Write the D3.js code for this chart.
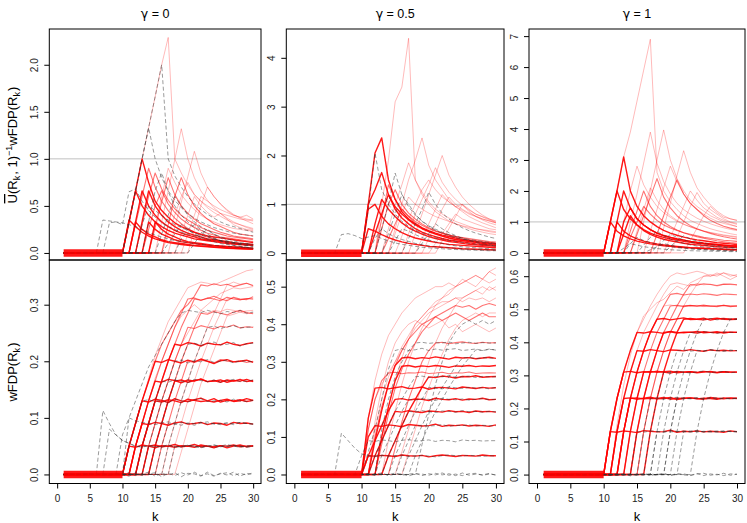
<!DOCTYPE html>
<html>
<head>
<meta charset="utf-8">
<script src="https://cdn.jsdelivr.net/npm/d3@7"></script>
<style>
body { margin: 0; background: #fff; }
text { font-family: "Liberation Sans", Arial, sans-serif; }
</style>
</head>
<body>
<script>
// ---- data (each line: [k where it leaves 0, value at that k, value at k+1, ... value at 30]) ----
var kTicks = [0, 5, 10, 15, 20, 25, 30];
var gammaValues = ['0', '0.5', '1'];
var bandK = [1, 2, 3, 4, 5, 6, 7, 8, 9, 10];

var top0Ticks = [0, 0.5, 1, 1.5, 2];
var top1Ticks = [0, 1, 2, 3, 4];
var top2Ticks = [0, 1, 2, 3, 4, 5, 6, 7];
var bot0Ticks = [0, 0.1, 0.2, 0.3];
var bot1Ticks = [0, 0.1, 0.2, 0.3, 0.4, 0.5];
var bot2Ticks = [0, 0.1, 0.2, 0.3, 0.4, 0.5, 0.6];

// gamma = 0, top row
var top0Strong = [
  [10, 0,.35,.28,.22,.18,.15,.13,.11,.1,.09,.08,.075,.07,.065,.06,.055,.05,.048,.045,.042,.04],
  [10, 0,.33,.66,.5,.4,.33,.28,.24,.21,.19,.17,.15,.14,.13,.12,.11,.1,.095,.09,.085,.08],
  [10, 0,.33,.66,1.0,.75,.55,.45,.38,.32,.28,.25,.22,.2,.18,.17,.16,.15,.14,.13,.12,.11],
  [11, 0,.33,.66,.5,.4,.33,.28,.24,.21,.19,.17,.15,.14,.13,.12,.11,.1,.095,.09,.085],
  [11, 0,.33,.25,.2,.17,.14,.12,.11,.1,.09,.08,.075,.07,.065,.06,.055,.05,.048,.045,.042],
  [12, 0,.33,.66,.5,.4,.33,.28,.24,.21,.19,.17,.15,.14,.13,.12,.11,.1,.095,.09],
  [13, 0,.33,.25,.2,.17,.14,.12,.11,.1,.09,.08,.075,.07,.065,.06,.055,.05,.048],
  [14, 0,.33,.25,.2,.17,.14,.12,.11,.1,.09,.08,.075,.07,.065,.06,.055,.05]
];
var top0Mid = [
  [12, 0,.3,.6,.85,.68,.56,.47,.4,.35,.31,.27,.24,.22,.2,.18,.17,.16,.15,.14],
  [14, 0,.27,.54,.8,.62,.5,.42,.36,.31,.28,.25,.22,.2,.18,.17,.16,.15],
  [16, 0,.3,.6,.8,.62,.5,.42,.36,.31,.28,.25,.22,.2,.19,.18],
  [13, 0,.25,.5,.66,.52,.43,.36,.31,.27,.24,.21,.19,.17,.16,.15,.14,.13,.12],
  [11, 0,.3,.6,.9,.7,.55,.45,.37,.31,.26,.22,.19,.17,.15,.13,.12,.11,.1,.09,.085]
];
var top0Faint = [
  [10, 0,.33,.66,1.0,1.33,1.66,2.0,2.29,1.0,.85,.72,.62,.55,.48,.43,.39,.35,.32,.3,.28,.26],
  [15, 0,.33,.66,.99,1.32,1.0,.8,.66,.56,.48,.42,.37,.33,.3,.27,.25],
  [17, 0,.27,.54,.81,1.08,.85,.7,.6,.52,.46,.41,.37,.34,.31],
  [18, 0,.2,.4,.6,.5,.43,.38,.42,.36,.3,.27,.25,.24],
  [20, 0,.25,.5,.7,.6,.52,.45,.4,.38,.4,.36],
  [16, 0,.2,.4,.6,.75,.62,.55,.5,.46,.42,.4,.38,.36,.35,.34],
  [19, 0,.2,.4,.6,.55,.5,.46,.43,.4,.38,.36,.35],
  [14, 0,.3,.6,.9,.75,.62,.53,.46,.4,.36,.33,.3,.28,.26,.25,.24,.23]
];
var top0Gray = [
  [10, 0,.33,.66,1.0,1.33,1.0,.8,.66,.56,.48,.42,.37,.33,.3,.27,.25,.23,.21,.2,.19,.18],
  [10, 0,.33,.66,1.0,1.33,1.66,2.0,1.0,.82,.7,.6,.52,.46,.41,.37,.33,.3,.28,.26,.24,.22],
  [6, 0,.35,.34,.33,.32,.3,.28,.25,.22,.19,.17,.15,.13,.12,.11,.1,.09,.085,.08,.075,.07,.065,.06,.055,.05],
  [7, 0,.32,.33,.3,.65,.68,.55,.45,.38,.32,.28,.25,.22,.2,.18,.16,.15,.14,.13,.12,.11,.1,.1,.09],
  [12, 0,.3,.5,.45,.4,.35,.3,.27,.24,.21,.19,.17,.15,.13,.12,.11,.1,.09,.08],
  [15, 0,.2,.4,.6,.5,.4,.33,.28,.24,.2,.17,.15,.13,.11,.1,.09],
  [13, 0,.33,.66,.85,.65,.5,.4,.33,.27,.22,.18,.15,.13,.11,.1,.09,.08,.07],
  [18, 0,.15,.25,.3,.25,.2,.16,.13,.1,.08,.07,.06,.05],
  [16, 0,.1,.2,.3,.25,.2,.17,.14,.12,.1,.09,.08,.07,.06,.05],
  [20, 0,.1,.2,.25,.2,.16,.13,.11,.09,.08,.07]
];

// gamma = 0.5, top row
var top1Strong = [
  [10, 0,1.0,2.05,2.36,1.5,1.1,.85,.7,.6,.52,.46,.41,.37,.34,.31,.28,.26,.24,.22,.21,.2],
  [10, 0,1.0,1.3,1.65,1.2,.9,.72,.6,.5,.43,.38,.34,.3,.27,.25,.23,.21,.19,.18,.17,.16],
  [10, 0,.9,1.0,.75,.6,.5,.42,.36,.31,.28,.25,.22,.2,.18,.17,.16,.15,.14,.13,.12,.11],
  [10, 0,.5,.45,.38,.32,.27,.23,.2,.18,.16,.14,.13,.12,.11,.1,.09,.085,.08,.075,.07,.065],
  [11, 0,.6,1.1,.9,.75,.62,.52,.45,.39,.34,.3,.27,.24,.22,.2,.18,.17,.16,.15,.14],
  [11, 0,.4,.8,1.2,.95,.8,.68,.58,.5,.44,.39,.35,.31,.28,.26,.24,.22,.2,.19,.18]
];
var top1Mid = [
  [12, 0,.5,1.0,1.3,1.0,.82,.7,.6,.52,.46,.41,.37,.34,.31,.28,.26,.24,.22,.2],
  [13, 0,.3,.6,.9,.75,.62,.52,.45,.4,.35,.31,.28,.26,.24,.22,.2,.19,.18],
  [12, 0,.7,1.4,1.1,.9,.76,.65,.57,.5,.45,.41,.37,.34,.32,.3,.28,.26,.24,.23]
];
var top1Faint = [
  [12, 0,1.0,1.9,3.1,3.4,4.4,1.5,1.2,1.0,.85,.75,.66,.6,.55,.5,.46,.43,.4,.38],
  [14, 0,.5,1.0,1.5,1.9,2.36,1.8,1.5,1.3,1.1,.95,.85,.75,.68,.62,.57,.52],
  [17, 0,.4,.8,1.2,1.6,2.0,1.6,1.35,1.15,1.0,.88,.78,.7,.64],
  [13, 0,.5,1.0,1.4,1.85,1.5,1.25,1.05,.9,.8,.72,.65,.6,.55,.5,.47,.44,.42],
  [18, 0,.3,.6,.9,1.2,1.05,.95,1.0,.85,.75,.68,.62,.58],
  [15, 0,.35,.7,1.0,1.3,1.5,1.3,1.15,1.05,.95,.88,.8,.75,.7,.66,.62],
  [20, 0,.2,.4,.6,.8,.7,.65,.6,.55,.5,.48],
  [16, 0,.4,.8,1.1,1.4,1.75,1.45,1.25,1.1,.98,.88,.8,.74,.68,.63],
  [19, 0,.3,.6,.9,1.15,1.0,.9,.82,.76,.7,.66,.62],
  [14, 0,.4,.8,1.15,1.0,.9,.82,.75,.7,.65,.6,.56,.53,.5,.48,.46,.44],
  [21, 0,.25,.5,.75,1.0,.9,.8,.75,.7,.66]
];
var top1Gray = [
  [6, 0,.38,.4,.36,.3,.33,.36,.3,.25,.21,.18,.16,.14,.12,.11,.1,.09,.08,.075,.07,.065,.06,.055,.05,.05],
  [10, 0,.9,2.05,1.3,1.0,.8,.65,.55,.47,.41,.36,.32,.29,.26,.24,.22,.2,.18,.17,.16,.15],
  [12, 0,.5,1.0,1.64,1.2,.95,.78,.66,.56,.49,.43,.38,.34,.31,.28,.26,.24,.22,.2],
  [13, 0,.4,.8,1.2,1.0,.8,.65,.55,.47,.41,.36,.32,.29,.26,.24,.22,.2,.19],
  [16, 0,.3,.6,.9,1.25,1.0,.82,.7,.6,.52,.46,.41,.37,.33,.3],
  [11, 0,.3,.5,.4,.33,.28,.24,.2,.17,.15,.13,.12,.11,.1,.09,.08,.075,.07,.065,.06],
  [14, 0,.25,.5,.45,.38,.32,.27,.23,.2,.17,.15,.13,.12,.11,.1,.09,.08],
  [18, 0,.2,.4,.6,.5,.42,.36,.3,.26,.22,.19,.17,.15]
];

// gamma = 1, top row
var top2Strong = [
  [10, 0,1.0,2.0,3.1,2.0,1.5,1.2,1.0,.85,.73,.64,.57,.51,.46,.42,.39,.36,.33,.31,.29,.27],
  [10, 0,1.0,2.0,1.4,1.1,.9,.75,.64,.56,.5,.45,.41,.37,.34,.31,.29,.27,.25,.23,.22,.21],
  [10, 0,1.0,.7,.55,.45,.38,.33,.29,.26,.23,.21,.19,.17,.16,.15,.14,.13,.12,.11,.1,.1],
  [11, 0,1.0,2.0,1.45,1.1,.9,.75,.64,.56,.5,.45,.41,.37,.34,.31,.29,.27,.25,.23,.22],
  [11, 0,1.0,.7,.55,.45,.38,.33,.29,.26,.23,.21,.19,.17,.16,.15,.14,.13,.12,.11,.1],
  [12, 0,1.0,1.45,1.1,.9,.75,.64,.56,.5,.45,.41,.37,.34,.31,.29,.27,.25,.23,.22],
  [12, 0,.6,1.2,.9,.72,.6,.51,.44,.39,.35,.31,.28,.26,.24,.22,.2,.19,.18,.17]
];
var top2Mid = [
  [13, 0,.7,1.35,2.0,1.5,1.2,1.0,.85,.74,.65,.58,.52,.47,.43,.39,.36,.33,.31],
  [14, 0,.6,1.2,1.8,2.4,1.8,1.45,1.2,1.02,.88,.78,.7,.63,.57,.52,.48,.45],
  [17, 0,.6,1.2,1.8,2.35,1.9,1.6,1.4,1.2,1.05,.95,.86,.8,.75],
  [13, 0,.5,1.0,1.5,1.25,1.05,.9,.8,.72,.65,.6,.55,.5,.47,.44,.41,.39,.37]
];
var top2Faint = [
  [10, 0,1.0,2.0,3.1,3.9,4.9,5.9,6.9,2.6,2.0,1.65,1.4,1.2,1.05,.95,.86,.78,.72,.67,.62,.58],
  [15, 0,1.0,2.0,3.0,3.97,3.0,2.4,2.0,1.7,1.5,1.35,1.2,1.1,1.0,.92,.85],
  [18, 0,.8,1.6,2.5,3.3,2.6,2.1,1.8,1.55,1.35,1.2,1.1,1.05],
  [12, 0,1.0,2.0,2.8,2.2,1.8,1.5,1.3,1.15,1.02,.92,.84,.77,.71,.66,.62,.58,.55,.52],
  [20, 0,.5,1.0,1.5,1.95,1.6,1.4,1.25,1.1,1.0,.95],
  [14, 0,.7,1.4,2.1,1.7,1.4,1.2,1.05,.93,.84,.76,.7,.65,.6,.56,.53,.5],
  [22, 0,.4,.8,1.2,1.5,1.3,1.15,1.1,1.05],
  [16, 0,.7,1.4,2.1,2.8,2.3,1.9,1.6,1.4,1.25,1.12,1.02,.95,.9,.85],
  [19, 0,.5,1.0,1.5,2.0,1.7,1.45,1.3,1.15,1.05,.98,.92],
  [13, 0,1.0,1.9,2.9,3.9,2.9,2.3,1.9,1.6,1.4,1.25,1.12,1.02,.94,.87,.81,.76,.72]
];
var top2Gray = [
  [13, 0,.3,.5,.4,.33,.28,.24,.2,.17,.15,.13,.12,.11,.1,.09,.08,.075,.07],
  [15, 0,.25,.5,.7,.55,.45,.37,.31,.26,.22,.19,.17,.15,.13,.12,.11],
  [17, 0,.2,.4,.6,.5,.42,.35,.3,.26,.22,.2,.18,.16,.15],
  [12, 0,.15,.3,.25,.2,.17,.14,.12,.1,.09,.08,.07,.065,.06,.055,.05,.045,.04,.04],
  [19, 0,.2,.4,.55,.45,.38,.32,.27,.23,.2,.18,.16],
  [16, 0,.1,.2,.3,.25,.2,.17,.14,.12,.1,.09,.08,.07,.06,.05]
];

// gamma = 0, bottom row
var bot0Strong = [
  [10, 0,.05,.048,.052,.05,.047,.051,.05,.053,.049,.05,.048,.052,.05,.049,.051,.047,.05,.052,.049,.05],
  [10, 0,.05,.09,.13,.128,.133,.131,.127,.134,.13,.129,.132,.135,.13,.128,.131,.133,.129,.13,.134,.131],
  [10, 0,.05,.09,.13,.165,.20,.198,.203,.2,.197,.202,.199,.204,.2,.196,.201,.203,.199,.2,.202,.198],
  [11, 0,.05,.09,.088,.092,.09,.087,.091,.093,.089,.09,.092,.088,.091,.09,.087,.092,.09,.091,.089],
  [11, 0,.05,.09,.13,.165,.163,.168,.166,.162,.167,.165,.169,.164,.166,.163,.167,.165,.168,.164,.166],
  [12, 0,.05,.09,.13,.128,.132,.13,.127,.133,.131,.129,.13,.134,.128,.131,.13,.132,.129,.131],
  [13, 0,.05,.052,.049,.05,.048,.051,.05,.053,.049,.05,.047,.051,.05,.052,.049,.05,.051],
  [12, 0,.05,.09,.13,.165,.20,.23,.228,.233,.231,.227,.232,.23,.229,.234,.23,.228,.231,.233],
  [14, 0,.05,.09,.13,.165,.167,.163,.166,.168,.164,.165,.167,.163,.166,.165,.168,.164]
];
var bot0Mid = [
  [10, 0,.05,.09,.13,.165,.20,.23,.25,.27,.29,.30,.315,.335,.333,.337,.334,.336,.332,.335,.338,.334],
  [11, 0,.05,.09,.13,.165,.20,.23,.26,.285,.31,.312,.308,.311,.315,.31,.307,.313,.31,.309,.314],
  [13, 0,.05,.09,.13,.165,.20,.23,.26,.258,.263,.26,.257,.262,.26,.264,.259,.261,.26],
  [14, 0,.05,.09,.13,.165,.20,.23,.26,.285,.283,.288,.285,.282,.287,.29,.286,.284],
  [15, 0,.05,.09,.13,.165,.20,.198,.202,.2,.197,.203,.2,.199,.201,.198,.2],
  [12, 0,.05,.09,.13,.165,.20,.23,.26,.285,.31,.308,.312,.31,.307,.313,.31,.309,.311,.31]
];
var bot0Faint = [
  [16, 0,.05,.09,.13,.165,.20,.23,.26,.285,.31,.335,.34,.336,.338,.333],
  [17, 0,.05,.09,.13,.165,.20,.23,.26,.285,.31,.312,.308,.311,.31],
  [18, 0,.04,.08,.12,.16,.19,.22,.25,.28,.283,.287,.284,.286],
  [10, 0,.05,.09,.13,.17,.21,.24,.27,.29,.31,.33,.335,.34,.338,.335,.34,.345,.35,.355,.36,.362],
  [11, 0,.05,.09,.13,.17,.2,.23,.26,.28,.29,.3,.29,.285,.29,.288,.292,.29,.287,.289,.29],
  [13, 0,.05,.09,.13,.165,.2,.23,.25,.27,.29,.3,.31,.32,.325,.33,.328,.33,.332]
];
var bot0Gray = [
  [6, 0,.113,.09,.07,.06,.055,.05,.048,.051,.049,.05,.052,.048,.05,.051,.049,.047,.05,.052,.05,.049,.051,.05,.048,.05],
  [7, 0,.08,.07,.06,.055,.05,.049,.051,.05,.048,.052,.05,.049,.051,.05,.048,.05,.052,.049,.05,.051,.05,.049,.05],
  [9, 0,.07,.1,.095,.092,.09,.088,.091,.093,.09,.087,.091,.09,.092,.089,.09,.088,.091,.09,.092,.09,.089],
  [1, 0,.001,-.002,.002,0,-.001,.002,-.002,.001,0,.003,-.002,.001,.004,-.003,.002,-.001,.003,-.004,.002,.001,-.003,.004,-.002,.001,.003,-.002,.002,-.001,.003],
  [1, -.002,.001,0,-.001,.002,.001,-.002,0,.002,-.001,-.003,.003,-.002,.001,.003,-.004,.002,-.002,.003,-.001,.004,-.002,.001,-.003,.002,-.001,.004,-.003,.002,0],
  [10, 0,.05,.09,.13,.132,.129,.131,.127,.133,.13,.128,.132,.134,.129,.13,.131,.128,.133,.13,.129,.131],
  [12, 0,.05,.09,.13,.165,.163,.167,.165,.162,.168,.166,.164,.167,.163,.166,.168,.164,.165,.167],
  [13, 0,.05,.09,.13,.165,.20,.202,.197,.201,.199,.203,.198,.2,.202,.197,.201,.2,.199],
  [14, 0,.05,.09,.13,.165,.20,.23,.232,.228,.231,.234,.229,.23,.233,.227,.231,.232],
  [10, 0,.1,.13,.16,.19,.21,.23,.25,.27,.285,.29,.288,.286,.29,.287,.284,.288,.286,.29,.285,.287],
  [15, 0,.05,.09,.088,.092,.09,.087,.091,.093,.089,.09,.091,.088,.092,.09,.089],
  [17, 0,.05,.048,.052,.05,.049,.051,.047,.05,.053,.05,.048,.051,.05],
  [16, 0,.05,.09,.13,.165,.20,.23,.26,.262,.258,.261,.263,.259,.26,.261]
];

// gamma = 0.5, bottom row
var bot1Strong = [
  [10, 0,.1,.13,.128,.132,.13,.127,.133,.131,.129,.13,.134,.128,.131,.13,.132,.129,.131,.13,.128,.132],
  [10, 0,.15,.23,.232,.228,.231,.234,.229,.23,.233,.227,.231,.232,.23,.228,.233,.231,.229,.232,.23,.231],
  [10, 0,.05,.09,.13,.17,.2,.202,.198,.201,.2,.197,.203,.2,.199,.202,.198,.201,.2,.203,.199,.2],
  [11, 0,.05,.09,.13,.168,.166,.17,.167,.165,.169,.168,.166,.17,.167,.168,.165,.169,.167,.168,.166],
  [10, 0,.05,.049,.051,.05,.048,.052,.05,.049,.051,.047,.05,.052,.05,.048,.051,.05,.049,.052,.05,.05],
  [11, 0,.09,.17,.24,.29,.31,.312,.308,.311,.309,.313,.31,.307,.312,.31,.311,.308,.31,.312,.309],
  [12, 0,.1,.18,.25,.288,.29,.286,.289,.287,.29,.288,.285,.289,.288,.29,.287,.289,.288,.29],
  [13, 0,.05,.09,.13,.168,.2,.232,.26,.258,.262,.26,.257,.261,.26,.263,.259,.26,.261]
];
var bot1Mid = [
  [14, 0,.07,.14,.2,.25,.3,.33,.35,.352,.348,.351,.353,.35,.349,.352,.35,.351],
  [11, 0,.1,.18,.24,.29,.33,.36,.38,.4,.41,.42,.41,.42,.43,.42,.41,.42,.43,.42,.42],
  [12, 0,.08,.16,.23,.28,.32,.35,.38,.4,.42,.43,.44,.45,.445,.45,.44,.45,.455,.45],
  [10, 0,.12,.2,.25,.27,.272,.268,.271,.27,.273,.269,.27,.272,.268,.271,.27,.273,.269,.27,.271,.27]
];
var bot1Faint = [
  [10, 0,.12,.2,.24,.27,.3,.33,.36,.39,.41,.43,.44,.45,.46,.47,.47,.48,.49,.48,.5,.49],
  [11, 0,.12,.2,.26,.3,.34,.37,.4,.42,.44,.46,.47,.48,.5,.51,.52,.53,.52,.54,.53],
  [13, 0,.09,.17,.24,.3,.35,.39,.42,.45,.47,.49,.5,.51,.52,.53,.52,.54,.55],
  [15, 0,.06,.12,.18,.24,.3,.35,.39,.42,.45,.47,.48,.49,.5,.49,.5],
  [10, 0,.15,.25,.32,.37,.4,.43,.45,.47,.48,.49,.5,.5,.51,.5,.52,.51,.5,.52,.51,.52],
  [12, 0,.1,.18,.25,.31,.36,.4,.42,.44,.45,.46,.46,.47,.46,.47,.465,.47,.46,.47],
  [16, 0,.06,.12,.18,.23,.28,.32,.36,.39,.41,.42,.43,.42,.43,.43],
  [11, 0,.14,.23,.3,.35,.38,.4,.41,.4,.39,.4,.41,.39,.4,.38,.39,.4,.39,.38,.39]
];
var bot1Gray = [
  [6, 0,.11,.09,.07,.055,.05,.048,.051,.049,.05,.052,.048,.05,.051,.049,.047,.05,.052,.05,.049,.051,.05,.048,.05,.049],
  [1, .002,-.001,0,.001,-.002,.002,0,-.001,.001,-.002,.003,-.003,.002,-.001,.004,-.002,.001,.003,-.003,.002,-.001,.004,-.002,.001,-.003,.002,.003,-.002,.001,-.001],
  [1, -.001,.002,-.002,0,.001,-.001,.002,.001,-.002,.002,-.002,.001,.004,-.003,.001,.002,-.004,.002,.001,-.002,.003,-.001,.002,-.003,.004,-.002,.001,-.001,.003,-.002],
  [9, 0,.05,.09,.088,.092,.09,.087,.091,.093,.089,.09,.092,.088,.091,.09,.087,.092,.09,.091,.089,.09,.09],
  [12, 0,.05,.09,.13,.168,.2,.198,.202,.2,.197,.203,.2,.199,.201,.198,.2,.202,.199,.2],
  [14, 0,.05,.09,.13,.168,.2,.232,.23,.228,.233,.231,.229,.232,.23,.231,.228,.232],
  [16, 0,.05,.09,.13,.168,.2,.232,.26,.288,.31,.312,.308,.311,.31,.309],
  [15, 0,.05,.09,.13,.131,.129,.13,.133,.128,.131,.13,.132,.129,.131,.13,.13],
  [17, 0,.05,.09,.13,.168,.2,.232,.26,.288,.31,.332,.33,.334,.331],
  [13, 0,.05,.09,.13,.168,.166,.17,.167,.165,.169,.168,.166,.17,.167,.168,.166,.168,.167],
  [12, 0,.12,.2,.26,.3,.33,.35,.352,.349,.351,.35,.353,.348,.35,.352,.349,.351,.35,.35],
  [11, 0,.05,.09,.13,.168,.2,.232,.26,.262,.258,.261,.26,.263,.259,.26,.262,.258,.261,.26,.26],
  [18, 0,.08,.16,.24,.3,.35,.38,.4,.41,.4,.41,.4,.41],
  [10, 0,.06,.12,.2,.28,.33,.335,.33,.332,.336,.33,.334,.331,.333,.335,.33,.332,.334,.33,.333,.332]
];

// gamma = 1, bottom row
var bot2Strong = [
  [10, 0,.13,.128,.132,.13,.127,.133,.131,.129,.13,.134,.128,.131,.13,.132,.129,.131,.13,.128,.132,.13],
  [10, 0,.13,.23,.31,.312,.308,.311,.309,.313,.31,.307,.312,.31,.311,.308,.31,.312,.309,.311,.31,.31],
  [10, 0,.13,.23,.31,.375,.43,.428,.432,.43,.427,.433,.43,.429,.431,.428,.432,.43,.429,.431,.43,.43],
  [11, 0,.13,.23,.232,.228,.231,.234,.229,.23,.233,.227,.231,.232,.23,.228,.233,.231,.229,.232,.23],
  [11, 0,.13,.23,.31,.375,.373,.378,.375,.372,.377,.376,.374,.378,.375,.373,.377,.375,.376,.374,.375],
  [12, 0,.13,.23,.31,.375,.43,.47,.472,.468,.471,.474,.469,.47,.473,.467,.471,.472,.47,.471],
  [12, 0,.13,.23,.232,.229,.231,.23,.233,.228,.231,.23,.232,.229,.231,.23,.228,.232,.23,.231],
  [13, 0,.13,.23,.31,.312,.309,.311,.313,.308,.31,.311,.309,.312,.31,.308,.311,.31,.31],
  [14, 0,.13,.23,.31,.375,.43,.432,.428,.431,.43,.433,.429,.43,.432,.428,.431,.43],
  [16, 0,.13,.23,.31,.375,.43,.47,.472,.47,.468,.471,.473,.47,.469,.47]
];
var bot2Mid = [
  [13, 0,.13,.23,.31,.375,.43,.47,.51,.512,.508,.511,.51,.513,.509,.51,.512,.508,.51],
  [12, 0,.13,.23,.31,.375,.43,.47,.51,.545,.548,.543,.546,.544,.547,.545,.542,.546,.545,.544],
  [15, 0,.13,.23,.31,.375,.43,.47,.51,.512,.509,.511,.51,.508,.512,.51,.51],
  [14, 0,.13,.23,.31,.375,.43,.47,.51,.545,.575,.573,.577,.575,.572,.576,.575,.574]
];
var bot2Faint = [
  [10, 0,.13,.23,.31,.375,.43,.47,.51,.545,.575,.6,.61,.605,.61,.615,.61,.6,.605,.61,.6,.605],
  [11, 0,.13,.23,.31,.375,.43,.47,.51,.545,.575,.58,.575,.57,.578,.574,.576,.57,.575,.578,.573],
  [15, 0,.13,.23,.31,.375,.43,.47,.51,.545,.575,.6,.605,.6,.61,.605,.6],
  [11, 0,.15,.27,.36,.43,.48,.5,.52,.53,.55,.57,.56,.58,.59,.6,.6,.61,.6,.59,.6],
  [12, 0,.13,.23,.31,.375,.43,.47,.51,.513,.509,.511,.51,.512,.508,.51,.511,.509,.51,.51]
];
var bot2Gray = [
  [1, .001,-.002,.002,-.001,0,.002,-.002,.001,-.001,.002,-.003,.003,-.001,.002,-.002,.004,-.003,.001,.002,-.002,.003,-.001,-.003,.002,.004,-.002,.001,-.003,.002,.001],
  [1, -.001,0,.002,-.002,.001,-.001,.001,.002,-.002,0,.002,-.002,.003,-.004,.002,-.001,.003,-.002,.004,-.003,.001,.002,-.002,.003,-.003,.002,-.001,.004,-.002,.001],
  [14, 0,.13,.128,.132,.13,.127,.133,.131,.129,.13,.134,.128,.131,.13,.132,.13,.129],
  [15, 0,.13,.23,.232,.228,.231,.234,.229,.23,.233,.227,.231,.232,.23,.229,.231],
  [16, 0,.13,.23,.31,.308,.312,.31,.307,.311,.313,.309,.31,.312,.308,.31],
  [17, 0,.13,.23,.31,.375,.377,.373,.376,.374,.378,.375,.373,.376,.375],
  [18, 0,.13,.23,.31,.375,.43,.428,.432,.43,.427,.431,.43,.43],
  [19, 0,.13,.23,.31,.375,.43,.47,.472,.468,.471,.47,.47],
  [20, 0,.13,.23,.31,.375,.373,.377,.375,.374,.376,.375],
  [23, 0,.13,.23,.31,.375,.43,.47,.47],
  [19, 0,.13,.23,.232,.229,.231,.23,.233,.228,.231,.23,.23],
  [17, 0,.13,.131,.129,.13,.132,.128,.131,.13,.129,.132,.13,.131,.13],
  [21, 0,.13,.132,.129,.131,.13,.128,.131,.13,.13]
];

// ---- layout ----
var W = 747, H = 523;
var cols = [[49.3, 261], [286.3, 504], [529, 745]];
var rows = [[260, 29], [483.5, 260]];
var kDomain = [-1.2, 31.2];

var panels = [
  {row: 0, col: 0, yDomain: [-0.075, 2.38], ticks: top0Ticks, fmt: '.1f', refLine: 1, sets: [top0Faint, top0Mid, top0Strong, top0Gray]},
  {row: 0, col: 1, yDomain: [-0.14, 4.59], ticks: top1Ticks, fmt: 'd', refLine: 1, sets: [top1Faint, top1Mid, top1Strong, top1Gray]},
  {row: 0, col: 2, yDomain: [-0.23, 7.23], ticks: top2Ticks, fmt: 'd', refLine: 1, sets: [top2Faint, top2Mid, top2Strong, top2Gray]},
  {row: 1, col: 0, yDomain: [-0.016, 0.379], ticks: bot0Ticks, fmt: '.1f', refLine: null, sets: [bot0Faint, bot0Mid, bot0Strong, bot0Gray]},
  {row: 1, col: 1, yDomain: [-0.024, 0.571], ticks: bot1Ticks, fmt: '.1f', refLine: null, sets: [bot1Faint, bot1Mid, bot1Strong, bot1Gray]},
  {row: 1, col: 2, yDomain: [-0.027, 0.649], ticks: bot2Ticks, fmt: '.1f', refLine: null, sets: [bot2Faint, bot2Mid, bot2Strong, bot2Gray]}
];

// faint, mid, strong red, then grey dashed
var setStyles = [
  {stroke: '#ff0000', opacity: 0.3, width: 0.9, dash: null},
  {stroke: '#ff0000', opacity: 0.55, width: 1.1, dash: null},
  {stroke: '#ff0000', opacity: 0.9, width: 1.4, dash: null},
  {stroke: '#333333', opacity: 0.55, width: 0.9, dash: '4,2.5'}
];

var svg = d3.select('body').append('svg')
    .attr('width', W)
    .attr('height', H);

function linePoints(L) {
  var k0 = L[0], pts = [];
  if (k0 > 1) pts.push([1, 0]);
  for (var i = 1; i < L.length; i++) pts.push([k0 + i - 1, L[i]]);
  return pts;
}

panels.forEach(function(p, i) {
  var xr = cols[p.col], yr = rows[p.row];
  var x = d3.scaleLinear().domain(kDomain).range(xr);
  var y = d3.scaleLinear().domain(p.yDomain).range(yr);
  var line = d3.line().x(function(d) { return x(d[0]); }).y(function(d) { return y(d[1]); });

  svg.append('clipPath').attr('id', 'clip' + i)
    .append('rect')
      .attr('x', xr[0]).attr('y', yr[1])
      .attr('width', xr[1] - xr[0]).attr('height', yr[0] - yr[1]);

  var plot = svg.append('g').attr('clip-path', 'url(#clip' + i + ')');

  if (p.refLine != null) {
    plot.append('line')
      .attr('x1', xr[0]).attr('x2', xr[1])
      .attr('y1', y(p.refLine)).attr('y2', y(p.refLine))
      .attr('stroke', '#c0c0c0')
      .attr('stroke-width', 1);
  }

  p.sets.forEach(function(set, s) {
    var st = setStyles[s];
    plot.append('g').selectAll('path')
      .data(set)
      .enter().append('path')
        .attr('d', function(L) { return line(linePoints(L)); })
        .attr('fill', 'none')
        .attr('stroke', st.stroke)
        .attr('stroke-opacity', st.opacity)
        .attr('stroke-width', st.width)
        .attr('stroke-linejoin', 'round')
        .attr('stroke-dasharray', st.dash);
  });

  // the band of lines that all sit at zero before the first rejection
  plot.append('path')
    .attr('d', line(bandK.map(function(k) { return [k, 0]; })))
    .attr('fill', 'none')
    .attr('stroke', '#ff0000')
    .attr('stroke-opacity', 0.9)
    .attr('stroke-width', 7.5);

  svg.append('rect')
    .attr('x', xr[0]).attr('y', yr[1])
    .attr('width', xr[1] - xr[0]).attr('height', yr[0] - yr[1])
    .attr('fill', 'none')
    .attr('stroke', '#000')
    .attr('stroke-width', 1);

  var ya = svg.append('g')
    .attr('transform', 'translate(' + xr[0] + ',0)')
    .call(d3.axisLeft(y).tickValues(p.ticks).tickSize(5).tickFormat(d3.format(p.fmt)));
  ya.select('.domain').remove();
  ya.attr('font-family', null).attr('font-size', null);
  ya.selectAll('text')
    .attr('x', null).attr('dy', null)
    .attr('transform', 'translate(-15,0) rotate(-90)')
    .attr('text-anchor', 'middle')
    .attr('dominant-baseline', 'central')
    .attr('font-size', 10)
    .attr('fill', '#222');

  if (p.row === 1) {
    var xa = svg.append('g')
      .attr('transform', 'translate(0,' + yr[0] + ')')
      .call(d3.axisBottom(x).tickValues(kTicks).tickSize(5));
    xa.select('.domain').remove();
    xa.attr('font-family', null).attr('font-size', null);
    xa.selectAll('text')
      .attr('y', 18.5).attr('dy', null)
      .attr('font-size', 10)
      .attr('fill', '#222');
    svg.append('text')
      .attr('x', (xr[0] + xr[1]) / 2)
      .attr('y', 521)
      .attr('text-anchor', 'middle')
      .attr('font-size', 13)
      .text('k');
  } else {
    var tt = svg.append('text')
      .attr('x', (xr[0] + xr[1]) / 2)
      .attr('y', 18)
      .attr('text-anchor', 'middle')
      .attr('font-size', 12.5);
    tt.append('tspan').style('font-family', '"DejaVu Sans", sans-serif').text('γ');
    tt.append('tspan').text(' = ' + gammaValues[p.col]);
  }
});

// y axis titles, sub/superscripts placed with dy
function addSub(t, s) {
  t.append('tspan').attr('dy', 3).attr('font-size', 9).text(s);
  t.append('tspan').attr('dy', -3).text('\u200a');
}
var t1 = svg.append('text')
    .attr('transform', 'translate(17,145) rotate(-90)')
    .attr('text-anchor', 'middle')
    .attr('font-size', 13);
t1.append('tspan').style('text-decoration', 'overline').text('U');
t1.append('tspan').text('(R');
addSub(t1, 'k');
t1.append('tspan').text(', 1)');
t1.append('tspan').attr('dy', -5).attr('font-size', 9).text('−1');
t1.append('tspan').attr('dy', 5).text('wFDP(R');
addSub(t1, 'k');
t1.append('tspan').text(')');

var t2 = svg.append('text')
    .attr('transform', 'translate(17,372) rotate(-90)')
    .attr('text-anchor', 'middle')
    .attr('font-size', 13);
t2.append('tspan').text('wFDP(R');
addSub(t2, 'k');
t2.append('tspan').text(')');
</script>
</body>
</html>
